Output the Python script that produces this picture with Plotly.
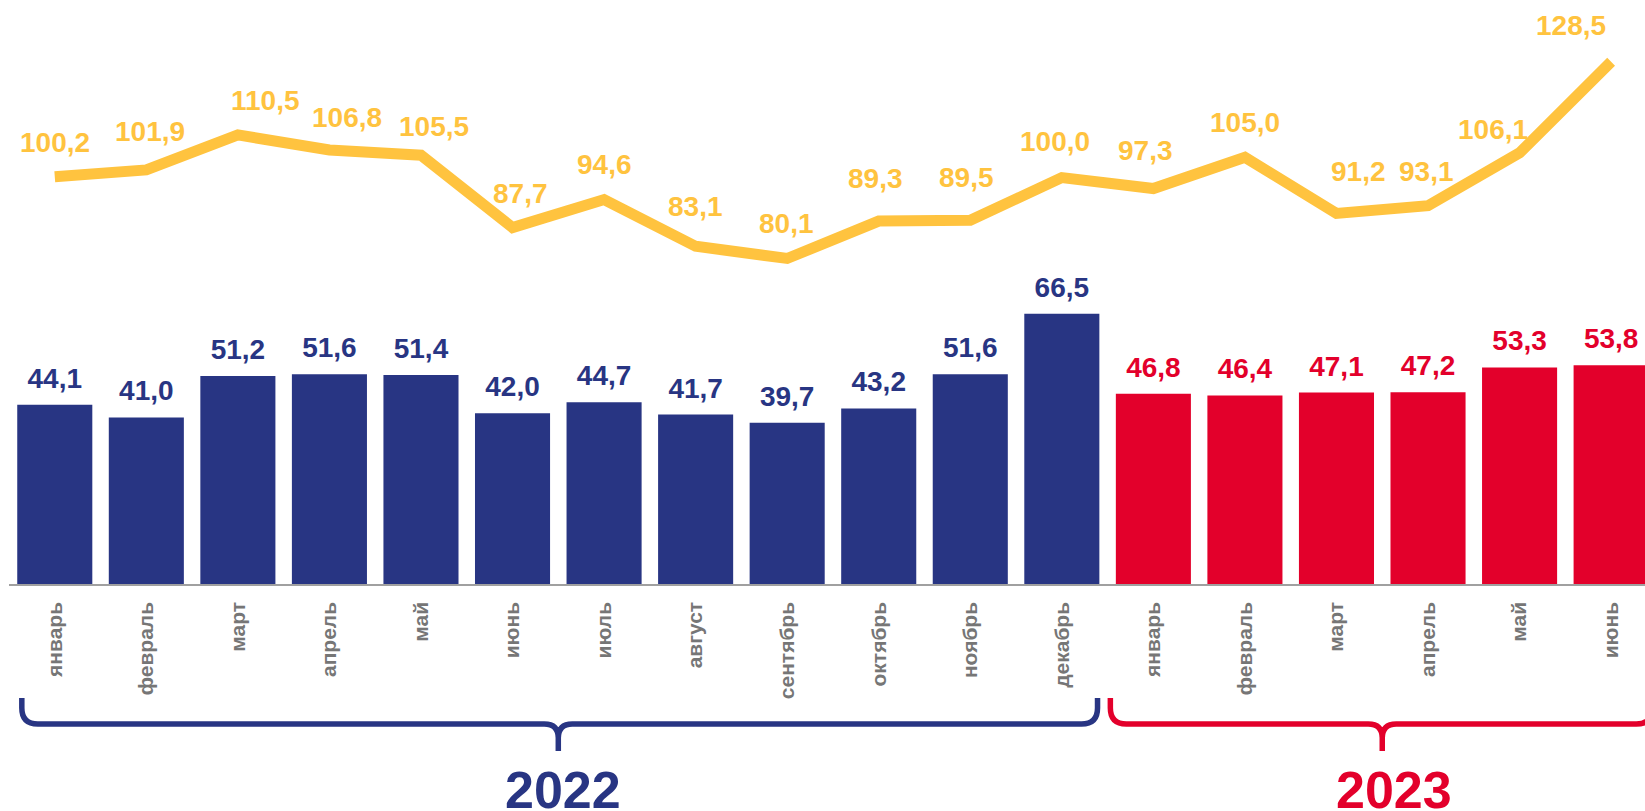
import plotly.graph_objects as go

# ---------------- data ----------------
months = ["январь", "февраль", "март", "апрель", "май", "июнь", "июль", "август",
          "сентябрь", "октябрь", "ноябрь", "декабрь",
          "январь", "февраль", "март", "апрель", "май", "июнь"]
years = ["2022", "2023"]
bars_2022 = [44.1, 41.0, 51.2, 51.6, 51.4, 42.0, 44.7, 41.7, 39.7, 43.2, 51.6, 66.5]
bars_2023 = [46.8, 46.4, 47.1, 47.2, 53.3, 53.8]
line_values = [100.2, 101.9, 110.5, 106.8, 105.5, 87.7, 94.6, 83.1, 80.1, 89.3, 89.5,
               100.0, 97.3, 105.0, 91.2, 93.1, 106.1, 128.5]

# ---------------- style ----------------
NAVY = "#283583"
RED = "#E3002B"
YELLOW = "#FFC33F"
GRAY = "#767676"
FONT = "Liberation Sans, Arial, sans-serif"

W, H = 1645, 811
ML, MR, MT, MB = 9, 0, 0, 227
XMIN, XMAX = -0.5, 17.37
YMAX = 143.7

# label placement for the line labels (pixel nudges: horizontal shift, gap above point)
LINE_LABEL_DX = [0, 4, 28, 18, 13, 8, 0, 0, -1, -3, -4, -7, -8, 0, 22, -2, -27, -40]
LINE_LABEL_GAP = [24, 28, 24, 22, 18, 24, 25, 29, 24, 32, 32, 26, 28, 24, 31, 24, 13, 26]


def fmt(v):
    return f"{v:.1f}".replace(".", ",")


n22, n23 = len(bars_2022), len(bars_2023)
x22 = list(range(n22))
x23 = list(range(n22, n22 + n23))
x_all = x22 + x23
bars_all = bars_2022 + bars_2023

fig = go.Figure()

fig.add_trace(go.Bar(x=x22, y=bars_2022, marker=dict(color=NAVY, line=dict(width=0)),
                     hoverinfo="skip", showlegend=False))
fig.add_trace(go.Bar(x=x23, y=bars_2023, marker=dict(color=RED, line=dict(width=0)),
                     hoverinfo="skip", showlegend=False))

# bar value labels (invisible markers give the offset above the bar top)
fig.add_trace(go.Scatter(
    x=x_all, y=bars_all, mode="markers+text",
    text=[fmt(v) for v in bars_all], textposition="top center",
    textfont=dict(family=FONT, size=28, weight="bold",
                  color=[NAVY] * n22 + [RED] * n23),
    marker=dict(size=14.4, opacity=0), hoverinfo="skip", showlegend=False,
    cliponaxis=False))

# line
fig.add_trace(go.Scatter(
    x=x_all, y=line_values, mode="lines",
    line=dict(color=YELLOW, width=11),
    hoverinfo="skip", showlegend=False, cliponaxis=False))

annotations = []
for xi, v, dx, gap in zip(x_all, line_values, LINE_LABEL_DX, LINE_LABEL_GAP):
    annotations.append(dict(x=xi, y=v, xref="x", yref="y", text=fmt(v), showarrow=False,
                            xanchor="center", yanchor="bottom", xshift=dx, yshift=gap - 7,
                            font=dict(family=FONT, size=28, weight="bold", color=YELLOW)))

# ---------------- braces ----------------
plot_w = W - ML - MR
ppc = plot_w / (XMAX - XMIN)  # pixels per category


def brace_path(x0, x1, xc, r=16, rc=14, yt=-114, ym=-140, yc=-167):
    rx = r / ppc
    rcx = rc / ppc
    return (f"M {x0},{yt} L {x0},{ym + r} Q {x0},{ym} {x0 + rx},{ym} "
            f"L {xc - rcx},{ym} Q {xc},{ym} {xc},{ym - rc} L {xc},{yc} "
            f"M {xc},{ym - rc} Q {xc},{ym} {xc + rcx},{ym} "
            f"L {x1 - rx},{ym} Q {x1},{ym} {x1},{ym + r} L {x1},{yt}")


groups = [(x22, NAVY, years[0], 5, 0.36, 0.39), (x23, RED, years[1], 12, 0.47, 0.45)]
shapes = []
for xs, col, label, shift, padl, padr in groups:
    c = (xs[0] + xs[-1]) / 2
    shapes.append(dict(type="path", xref="x", yref="paper", ysizemode="pixel", yanchor=0,
                       path=brace_path(xs[0] - padl, xs[-1] + padr, c),
                       line=dict(color=col, width=5.5), layer="above"))
    annotations.append(dict(x=c, y=0, xref="x", yref="paper", yanchor="middle",
                            yshift=-206, xshift=shift, showarrow=False, text=label,
                            font=dict(family=FONT, size=52, weight="bold", color=col)))

fig.update_layout(
    width=W, height=H,
    margin=dict(l=ML, r=MR, t=MT, b=MB, pad=0),
    paper_bgcolor="white", plot_bgcolor="white",
    bargap=0.18, barmode="overlay",
    shapes=shapes, annotations=annotations,
    xaxis=dict(range=[XMIN, XMAX], tickmode="array", tickvals=x_all, ticktext=months,
               tickangle=-90, showgrid=False, zeroline=False,
               showline=True, linecolor="#A0A0A0", linewidth=1.5,
               ticks="outside", ticklen=8, tickcolor="rgba(0,0,0,0)",
               tickfont=dict(family=FONT, size=21, weight="bold", color=GRAY)),
    yaxis=dict(range=[0, YMAX], visible=False, showgrid=False, zeroline=False),
    hovermode=False,
)

fig.write_html("out.html", config={"displayModeBar": False, "staticPlot": True},
               post_script="document.body.style.margin='0';")
